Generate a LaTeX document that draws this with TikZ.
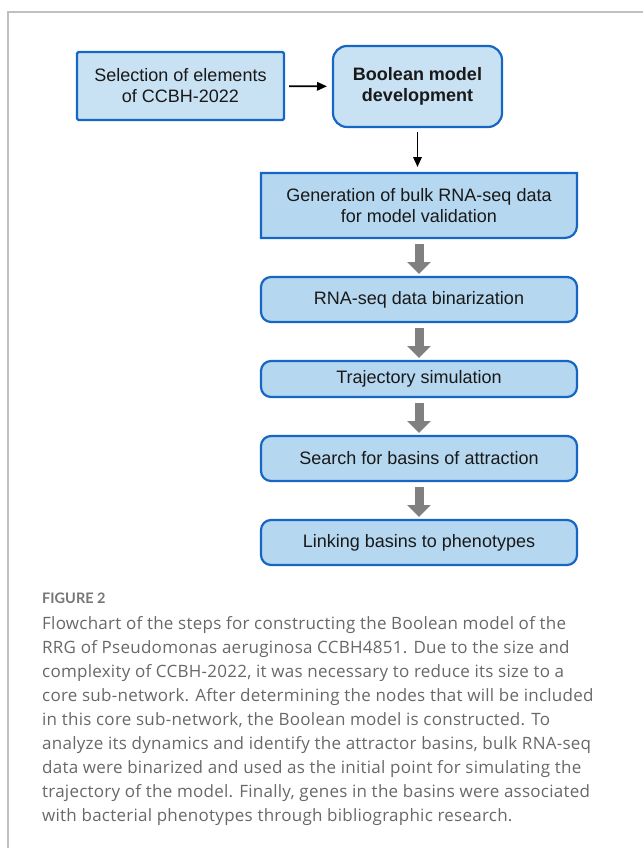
\documentclass[tikz,border=0pt]{standalone}
\usepackage{fontspec}
\setmainfont{Liberation Sans}
\newfontfamily\capfont[LetterSpace=1.5]{Open Sans}
\newfontfamily\figfont{Lato}
\usepackage{xcolor}
\usepackage{tikz}
\usetikzlibrary{positioning,arrows.meta}
\definecolor{boxblue}{RGB}{22,102,196}
\definecolor{paleblue}{RGB}{200,225,243}
\definecolor{stepblue}{RGB}{181,216,240}
\definecolor{framegray}{RGB}{192,192,192}
\definecolor{capgray}{RGB}{104,104,104}
\tikzset{
  box/.style={rectangle, draw=boxblue, line width=2.2pt, inner sep=0pt, outer sep=0pt, align=center,
    font=\fontsize{18}{21}\selectfont, text=black!90},
  stepbox/.style={box, fill=stepblue, rounded corners=10pt, minimum width=316pt},
  fwd/.style={-{Triangle[length=10pt, width=8.5pt]}, line width=1.8pt, shorten <=5pt, shorten >=6pt},
  blk/.style={-{Triangle[length=12pt, width=23pt]}, line width=9pt, draw=gray, shorten <=6pt, shorten >=3pt},
  frame/.style={draw=framegray, line width=1.3pt}
}
\begin{document}
\begin{tikzpicture}[x=1pt, y=-1pt, node distance=39pt]
\useasboundingbox (0,0) rectangle (643,848);
\draw[frame] (8,848) -- (8,12) -- (643,12);
\node[box, fill=paleblue, rounded corners=1.5pt, minimum width=207pt, minimum height=68pt] (sel) at (180.5,86) {Selection of elements\\of CCBH-2022};
\node[box, fill=paleblue, rounded corners=14pt, minimum width=169pt, minimum height=81pt] (bool) at (417.5,86.5) {\bfseries Boolean model\\\bfseries development};
\node[box, draw=none, minimum width=316pt, minimum height=65pt] (gen) at (419,205.5) {};
\draw[line width=2.2pt, draw=boxblue, fill=stepblue] (gen.south west) -- (gen.north west) -- (gen.north east) [rounded corners=12pt] -- (gen.south east) [sharp corners] -- cycle;
\node[box, draw=none] at (gen) {Generation of bulk RNA-seq data\\for model validation};
\node[stepbox, minimum height=45pt, below=of gen] (bin) {RNA-seq data binarization};
\node[stepbox, minimum height=36pt, below=of bin] (traj) {Trajectory simulation};
\node[stepbox, minimum height=45pt, below=of traj] (basins) {Search for basins of attraction};
\node[stepbox, minimum height=45pt, below=of basins] (link) {Linking basins to phenotypes};
\draw[fwd] (sel) -- (bool);
\draw[fwd] (bool.south) -- (bool.south |- gen.north);
\draw[blk] (gen) -- (bin);
\draw[blk] (bin) -- (traj);
\draw[blk] (traj) -- (basins);
\draw[blk] (basins) -- (link);
\node[anchor=base west, inner sep=0pt, font=\figfont\bfseries\fontsize{14.5}{17}\selectfont, text=capgray!90] (fig) at (42,603) {FIGURE 2};
\node[anchor=base west, inner sep=0pt, align=left, font=\capfont\fontsize{17}{24}\selectfont, text=capgray] (cap) at (42,821) {Flowchart of the steps for constructing the Boolean model of the\\
RRG of Pseudomonas aeruginosa CCBH4851. Due to the size and\\
complexity of CCBH-2022, it was necessary to reduce its size to a\\
core sub-network. After determining the nodes that will be included\\
in this core sub-network, the Boolean model is constructed. To\\
analyze its dynamics and identify the attractor basins, bulk RNA-seq\\
data were binarized and used as the initial point for simulating the\\
trajectory of the model. Finally, genes in the basins were associated\\
with bacterial phenotypes through bibliographic research.};
\end{tikzpicture}
\end{document}
